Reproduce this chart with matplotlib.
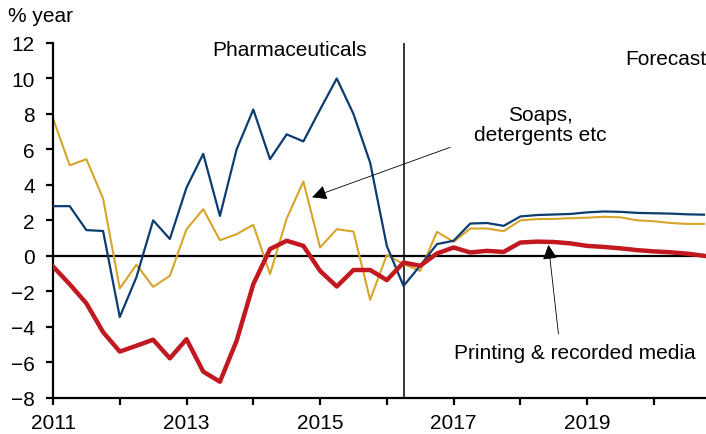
import numpy as np
import matplotlib.pyplot as plt

plt.rcParams['font.family'] = ['Liberation Sans', 'DejaVu Sans']

# quarterly, 2011Q1 .. 2020Q4
quarters = np.arange(2011, 2021, 0.25)

pharma = [2.8, 2.8, 1.45, 1.4, -3.45, -1.2, 2.0, 0.95,
          3.85, 5.75, 2.25, 6.0, 8.25, 5.45, 6.85, 6.45,
          8.25, 10.0, 8.0, 5.25, 0.55, -1.7, -0.55, 0.66,
          0.85, 1.82, 1.85, 1.69, 2.22, 2.3, 2.33, 2.36,
          2.45, 2.5, 2.48, 2.42, 2.4, 2.38, 2.34, 2.32]

soaps = [7.75, 5.1, 5.45, 3.23, -1.84, -0.5, -1.75, -1.13,
         1.5, 2.63, 0.88, 1.22, 1.75, -1.03, 2.1, 4.19,
         0.47, 1.5, 1.37, -2.48, 0.05, -0.47, -0.85, 1.35,
         0.79, 1.54, 1.54, 1.39, 2.0, 2.07, 2.08, 2.12,
         2.15, 2.2, 2.17, 2.0, 1.95, 1.85, 1.8, 1.8]

printing = [-0.6, -1.6, -2.68, -4.3, -5.4, -5.07, -4.73, -5.78,
            -4.7, -6.53, -7.1, -4.79, -1.6, 0.38, 0.85, 0.56,
            -0.85, -1.73, -0.8, -0.8, -1.37, -0.38, -0.56, 0.13,
            0.47, 0.19, 0.28, 0.22, 0.75, 0.8, 0.78, 0.7,
            0.56, 0.5, 0.42, 0.32, 0.25, 0.2, 0.12, 0.0]

forecast_start = 2016.25
fs = 15

fig = plt.figure(figsize=(7.06, 4.35), dpi=100)
ax = fig.add_axes([53 / 706, 1 - 398.7 / 435, 1 - 53 / 706, (398.7 - 44) / 435])

ax.axhline(0, color='black', lw=1.6, zorder=1)
ax.axvline(forecast_start, color='black', lw=1.1, zorder=1)

ax.plot(quarters, pharma, color='#0c3c70', lw=1.6, zorder=3)
ax.plot(quarters, soaps, color='#d6a52a', lw=1.5, zorder=2)
ax.plot(quarters, printing, color='#c1191f', lw=3.2, zorder=4)

ax.set_xlim(2011, 2020.78)
ax.set_ylim(-8, 12)
ax.set_yticks(np.arange(-8, 13, 2))
ax.set_xticks(np.arange(2011, 2021))
ax.set_xticklabels([str(y) if y % 2 == 1 else '' for y in range(2011, 2021)])

for s in ['top', 'right']:
    ax.spines[s].set_visible(False)
for s in ['left', 'bottom']:
    ax.spines[s].set_linewidth(1.6)
ax.tick_params(axis='both', direction='out', length=5, width=1.6, labelsize=fs)
ax.tick_params(axis='y', pad=8)
ax.tick_params(axis='x', pad=6)

fig.text(8 / 706, 1 - 16 / 435, '% year', fontsize=fs, va='center', ha='left')

ax.text(2014.55, 11.65, 'Pharmaceuticals', fontsize=fs, ha='center', va='center')
ax.text(2020.78, 11.1, 'Forecast', fontsize=fs, ha='right', va='center')

arrow = dict(arrowstyle='-|>,head_length=0.9,head_width=0.45', color='black',
             lw=0.6, shrinkA=0, shrinkB=0)
ax.annotate('', xy=(2014.88, 3.3), xytext=(2016.95, 6.12), arrowprops=arrow)
ax.text(2018.3, 7.4, 'Soaps,\ndetergents etc', fontsize=fs, ha='center',
        va='center', linespacing=1.05)

ax.annotate('', xy=(2018.42, 0.62), xytext=(2018.57, -4.4), arrowprops=arrow)
ax.text(2018.81, -5.45, 'Printing & recorded media', fontsize=fs,
        ha='center', va='center')

plt.savefig('out.png', dpi=100)
